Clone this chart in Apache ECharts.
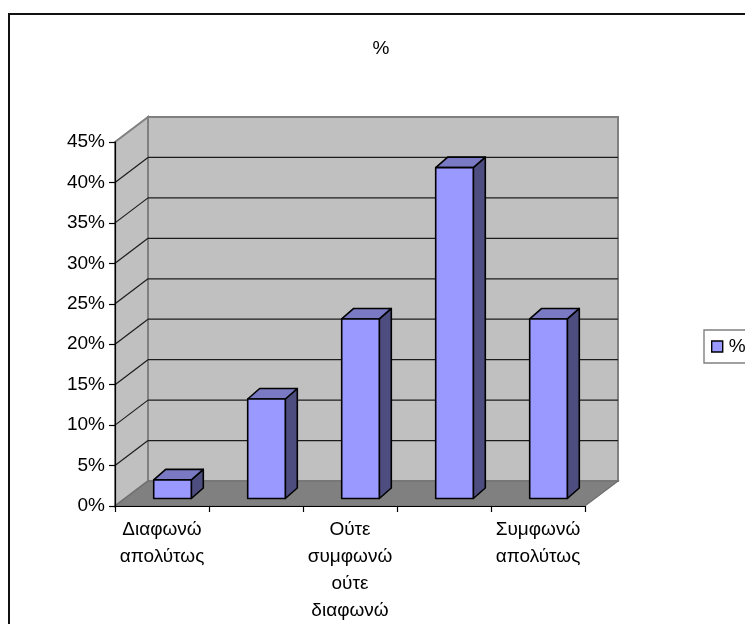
<!DOCTYPE html>
<html>
<head>
<meta charset="utf-8">
<style>html,body{margin:0;padding:0;background:#fff}#c{width:745px;height:624px}</style>
<script src="https://cdn.jsdelivr.net/npm/echarts@6/dist/echarts.min.js"></script>
</head>
<body>
<div id="c"></div>
<script>
const categories = ['Διαφωνώ\nαπολύτως', ' ', 'Ούτε\nσυμφωνώ\nούτε\nδιαφωνώ', '  ', 'Συμφωνώ\nαπολύτως'];
const values = [2.3, 12.3, 22.2, 40.9, 22.2];
const yTicks = [0, 5, 10, 15, 20, 25, 30, 35, 40, 45];
const seriesName = '%';
const FONT = '"Liberation Sans", Arial, sans-serif';
const DX = 33, DY = -25;           // wall depth
const BX0 = 10.5, BY0 = -7.5;      // bar front offset
const BX1 = 12, BY1 = -10.5;       // bar depth

const chart = echarts.init(document.getElementById('c'), null, {renderer: 'canvas'});

function wallsItem(params, api) {
  const cs = params.coordSys;
  const l = cs.x, r = cs.x + cs.width, t = cs.y, b = cs.y + cs.height;
  const line = {stroke: '#808080', lineWidth: 2};
  return {type: 'group', children: [
    {type: 'polygon', shape: {points: [[l, b], [l + DX, b + DY], [l + DX, t + DY], [l, t]]},
      style: Object.assign({fill: '#c0c0c0'}, line)},
    {type: 'polygon', shape: {points: [[l + DX, b + DY], [r + DX, b + DY], [r + DX, t + DY], [l + DX, t + DY]]},
      style: Object.assign({fill: '#c0c0c0'}, line)},
    {type: 'polygon', shape: {points: [[l, b], [l + DX, b + DY], [r + DX, b + DY], [r, b]]},
      style: {fill: '#808080', stroke: '#6e6e6e', lineWidth: 1.2}}
  ]};
}
function gridItem(params, api) {
  const cs = params.coordSys;
  const v = api.value(0);
  if (v === 0 || v === 45) return null;
  const y = api.coord([0, v])[1];
  const l = cs.x, r = cs.x + cs.width;
  const st = {stroke: '#1c1c1c', lineWidth: 1.2, fill: 'none'};
  return {type: 'group', children: [
    {type: 'line', shape: {x1: l, y1: y, x2: l + DX, y2: y + DY}, style: st},
    {type: 'line', shape: {x1: l + DX, y1: y + DY, x2: r + DX, y2: y + DY}, style: st}
  ]};
}
function barItem(params, api) {
  const i = api.value(0), v = api.value(1);
  const c0 = api.coord([i, 0]), c1 = api.coord([i, v]);
  const w = api.size([1, 0])[0] / 2.5;
  const x0 = c0[0] - w / 2 + BX0, x1 = x0 + w;
  const yb = c0[1] + BY0, yt = c1[1] + BY0;
  const st = {stroke: '#000', lineWidth: 1.6, lineJoin: 'round'};
  return {type: 'group', children: [
    {type: 'polygon', shape: {points: [[x1, yb], [x1 + BX1, yb + BY1], [x1 + BX1, yt + BY1], [x1, yt]]},
      style: Object.assign({fill: '#4d4d80'}, st)},
    {type: 'polygon', shape: {points: [[x0, yt], [x0 + BX1, yt + BY1], [x1 + BX1, yt + BY1], [x1, yt]]},
      style: Object.assign({fill: '#7a7ac4'}, st)},
    {type: 'rect', shape: {x: x0, y: yt, width: w, height: yb - yt},
      style: Object.assign({fill: '#9999ff'}, st)}
  ]};
}

chart.setOption({
  animation: false,
  backgroundColor: '#fff',
  title: {
    text: seriesName, left: 376, top: 34, textAlign: 'center',
    textStyle: {fontFamily: FONT, fontSize: 19, fontWeight: 'normal', color: '#000'}
  },
  legend: {
    data: [{name: seriesName, icon: 'rect', itemStyle: {color: '#9999ff', borderColor: '#000', borderWidth: 1.4}}],
    left: 704, top: 330, orient: 'vertical',
    itemWidth: 11, itemHeight: 11, itemGap: 0,
    padding: [7, 10, 7, 7], borderColor: '#808080', borderWidth: 1.4,
    selectedMode: false,
    textStyle: {fontFamily: FONT, fontSize: 19, color: '#000', padding: [0, 0, 4, 1]}
  },
  grid: {left: 115, top: 142, width: 470, height: 365, containLabel: false},
  xAxis: {
    type: 'category', data: categories, z: 5,
    axisLine: {show: true, lineStyle: {color: '#000', width: 1.2}},
    axisTick: {show: true, length: 6, lineStyle: {color: '#000', width: 1.2}},
    axisLabel: {interval: 0, margin: 10, fontFamily: FONT, fontSize: 19, lineHeight: 27, color: '#000'},
    splitLine: {show: false}
  },
  yAxis: {
    type: 'value', min: 0, max: 45, interval: 5, z: 5,
    axisLine: {show: true, lineStyle: {color: '#000', width: 1.2}},
    axisTick: {show: true, length: 6, lineStyle: {color: '#000', width: 1.2}},
    axisLabel: {margin: 10, formatter: '{value}%', fontFamily: FONT, fontSize: 19, color: '#000'},
    splitLine: {show: false}
  },
  graphic: [{
    type: 'rect', silent: true, z: 100,
    shape: {x: 9, y: 14, width: 800, height: 700},
    style: {fill: 'none', stroke: '#111', lineWidth: 2}
  }],
  series: [
    {name: 'walls', type: 'custom', coordinateSystem: 'cartesian2d', z: 1, silent: true, clip: false,
      renderItem: wallsItem, data: [[0, 0]], encode: {x: 0, y: 1}},
    {name: 'grid', type: 'custom', coordinateSystem: 'cartesian2d', z: 2, silent: true, clip: false,
      renderItem: gridItem, data: yTicks.map(v => [v]), encode: {y: 0}},
    {name: seriesName, type: 'custom', coordinateSystem: 'cartesian2d', z: 8, clip: false,
      renderItem: barItem, data: values.map((v, i) => [i, v]), encode: {x: 0, y: 1}}
  ]
});
</script>
</body>
</html>
